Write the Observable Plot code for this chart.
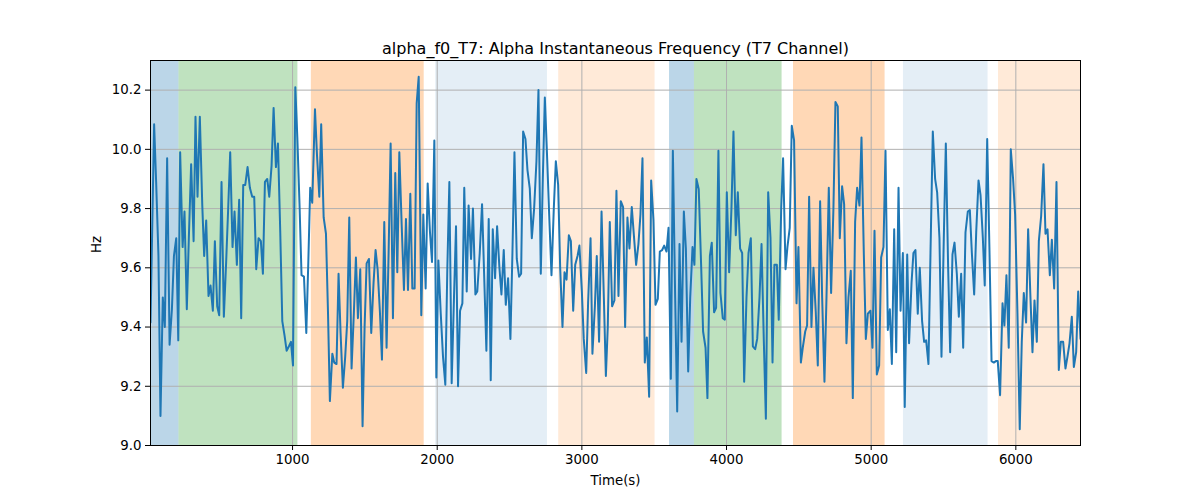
<!DOCTYPE html>
<html><head><meta charset="utf-8">
<script src="https://cdn.jsdelivr.net/npm/d3@7"></script>
<script src="https://cdn.jsdelivr.net/npm/@observablehq/plot@0.6"></script>
<style>body{margin:0;background:#fff;}</style>
</head><body><div id="chart"></div>
<script>
const titleText = "alpha_f0_T7: Alpha Instantaneous Frequency (T7 Channel)";
const xLabel = "Time(s)";
const yLabel = "Hz";
const xTicks = [1000, 2000, 3000, 4000, 5000, 6000];
const yTicks = [9.0, 9.2, 9.4, 9.6, 9.8, 10.0, 10.2];

const times = [
  18, 43, 57, 73, 87, 103, 117, 133, 150, 166, 180, 196, 210, 223, 240, 253, 269, 283, 299, 316, 329, 343, 359, 376, 389, 403, 419, 433, 449, 463, 479, 493, 509, 525, 541, 555, 569, 585, 599, 615, 631, 645, 659, 673, 689, 705, 721, 735, 749, 765, 781, 795, 809,
  825, 839, 855, 869, 885, 899, 915, 929, 945, 959, 975, 989, 1003, 1019, 1033, 1049, 1062, 1079, 1095, 1109, 1122, 1136, 1155, 1169, 1185, 1198, 1215, 1231, 1245, 1258, 1275, 1288, 1304, 1318, 1332, 1348, 1364, 1378, 1392, 1408, 1424, 1438, 1452, 1468, 1484, 1498, 1512, 1528, 1544, 1560, 1574,
  1588, 1604, 1618, 1634, 1650, 1664, 1678, 1694, 1710, 1724, 1738, 1754, 1770, 1784, 1798, 1814, 1828, 1844, 1858, 1872, 1890, 1904, 1920, 1934, 1950, 1964, 1980, 1994, 2008, 2024, 2040, 2056, 2070, 2084, 2100, 2116, 2130, 2144, 2158, 2174, 2187, 2204, 2217, 2234, 2247, 2264, 2277, 2294, 2310, 2323, 2340, 2356, 2370,
  2384, 2400, 2414, 2430, 2444, 2460, 2474, 2490, 2506, 2520, 2534, 2550, 2566, 2580, 2594, 2610, 2624, 2640, 2654, 2670, 2686, 2700, 2716, 2730, 2744, 2760, 2774, 2790, 2806, 2820, 2836, 2850, 2866, 2880, 2894, 2910, 2924, 2940, 2954, 2970, 2983, 3000, 3013, 3030, 3043, 3060, 3073, 3090, 3103, 3119, 3136, 3152, 3166,
  3179, 3193, 3209, 3225, 3239, 3253, 3269, 3285, 3299, 3315, 3329, 3345, 3361, 3375, 3391, 3405, 3419, 3435, 3449, 3465, 3479, 3495, 3509, 3525, 3539, 3555, 3569, 3585, 3599, 3615, 3629, 3645, 3659, 3675, 3689, 3705, 3719, 3735, 3749, 3765, 3778, 3792, 3808, 3825, 3838, 3855, 3868, 3885, 3898, 3914, 3928, 3944, 3958, 3974,
  3988, 4002, 4018, 4034, 4048, 4064, 4078, 4094, 4108, 4122, 4138, 4152, 4168, 4182, 4198, 4212, 4228, 4242, 4258, 4272, 4288, 4304, 4318, 4331, 4348, 4361, 4378, 4391, 4408, 4421, 4437, 4451, 4467, 4484, 4497, 4514, 4527, 4544, 4557, 4571, 4587, 4601, 4617, 4631, 4647, 4661, 4677, 4691, 4707, 4723, 4739, 4753, 4769, 4783,
  4799, 4813, 4829, 4843, 4859, 4873, 4889, 4903, 4919, 4933, 4949, 4963, 4977, 4995, 5009, 5023, 5039, 5055, 5069, 5085, 5099, 5115, 5129, 5143, 5159, 5173, 5189, 5203, 5219, 5232, 5249, 5262, 5279, 5292, 5306, 5322, 5336, 5352, 5366, 5380, 5396, 5410, 5426, 5442, 5456, 5472, 5486, 5502, 5516, 5532, 5546, 5562, 5576,
  5592, 5606, 5622, 5636, 5652, 5668, 5682, 5696, 5712, 5726, 5742, 5756, 5772, 5785, 5802, 5818, 5832, 5848, 5862, 5875, 5891, 5908, 5921, 5935, 5951, 5965, 5981, 5995, 6011, 6027, 6041, 6055, 6071, 6085, 6101, 6115, 6129, 6145, 6159, 6175, 6191, 6205, 6219, 6235, 6249, 6265, 6281, 6297, 6311, 6327, 6343, 6357, 6371, 6387, 6401, 6417, 6431, 6447
];
const values = [
  9.415, 10.085, 9.89, 9.64, 9.10, 9.50, 9.40, 9.97, 9.34, 9.46, 9.64, 9.70, 9.355, 9.99, 9.67, 9.79, 9.46, 9.70, 9.95, 9.69, 10.11, 9.84, 10.11, 9.81, 9.64, 9.76, 9.505, 9.54, 9.455, 9.69, 9.47, 9.44, 9.89, 9.435, 9.62, 9.80, 9.99, 9.67, 9.79, 9.61, 9.83, 9.43, 9.88, 9.88, 9.94, 9.87, 9.84, 9.84, 9.595, 9.70, 9.69, 9.58, 9.89,
  9.90, 9.84, 9.945, 10.14, 9.94, 10.02, 9.72, 9.42, 9.37, 9.32, 9.335, 9.35, 9.27, 10.21, 10.04, 9.80, 9.575, 9.57, 9.38, 9.62, 9.87, 9.82, 10.135, 9.98, 9.84, 10.085, 9.77, 9.715, 9.45, 9.15, 9.31, 9.28, 9.275, 9.58, 9.38, 9.195, 9.30, 9.42, 9.77, 9.26, 9.45, 9.635, 9.43, 9.595, 9.065, 9.40, 9.615, 9.63, 9.38, 9.55, 9.66,
  9.595, 9.45, 9.29, 9.755, 9.33, 9.65, 10.02, 9.43, 9.92, 9.585, 9.99, 9.75, 9.525, 9.765, 9.525, 9.85, 9.53, 9.53, 10.155, 10.245, 9.44, 9.78, 9.53, 9.885, 9.72, 9.62, 10.03, 9.23, 9.625, 9.45, 9.30, 9.205, 9.60, 9.89, 9.21, 9.50, 9.74, 9.20, 9.455, 9.48, 9.87, 9.52, 9.81, 9.63, 9.80, 9.51, 9.52, 9.65, 9.815, 9.60, 9.32, 9.765, 9.22,
  9.73, 9.565, 9.74, 9.60, 9.51, 9.66, 9.475, 9.565, 9.36, 9.65, 9.99, 9.63, 9.57, 9.58, 10.06, 10.035, 9.93, 9.867, 9.70, 9.80, 9.96, 10.20, 9.58, 9.90, 10.175, 9.97, 9.78, 9.575, 9.80, 9.96, 9.88, 9.60, 9.40, 9.585, 9.56, 9.71, 9.69, 9.455, 9.61, 9.64, 9.675, 9.52, 9.36, 9.245, 9.48, 9.70, 9.31, 9.47, 9.64, 9.35, 9.79, 9.50, 9.235,
  9.40, 9.755, 9.47, 9.49, 9.86, 9.505, 9.825, 9.805, 9.40, 9.77, 9.665, 9.805, 9.70, 9.61, 9.68, 9.78, 9.97, 9.28, 9.365, 9.165, 9.895, 9.76, 9.475, 9.495, 9.655, 9.66, 9.675, 9.655, 9.735, 9.225, 9.995, 9.50, 9.115, 9.68, 9.35, 9.79, 9.665, 9.25, 9.50, 9.67, 9.61, 9.90, 9.865, 9.60, 9.385, 9.33, 9.16, 9.64, 9.685, 9.45, 9.465, 9.995, 9.515, 9.43,
  9.425, 9.855, 9.585, 9.80, 10.06, 9.71, 9.855, 9.665, 9.65, 9.215, 9.50, 9.65, 9.70, 9.335, 9.325, 9.36, 9.50, 9.68, 9.35, 9.09, 9.855, 9.70, 9.28, 9.61, 9.61, 9.425, 9.80, 9.97, 9.595, 9.67, 9.735, 10.08, 10.03, 9.48, 9.67, 9.28, 9.33, 9.385, 9.405, 9.84, 9.40, 9.60, 9.45, 9.27, 9.825, 9.50, 9.215, 9.50, 9.87, 9.515, 9.80, 10.16, 10.145, 9.70,
  9.875, 9.815, 9.345, 9.50, 9.59, 9.16, 9.755, 9.87, 9.81, 10.04, 9.65, 9.36, 9.445, 9.455, 9.33, 9.725, 9.24, 9.27, 9.635, 9.67, 9.995, 9.39, 9.46, 9.275, 9.73, 9.315, 9.87, 9.455, 9.65, 9.13, 9.645, 9.345, 9.55, 9.65, 9.66, 9.445, 9.60, 9.42, 9.35, 9.355, 9.275, 9.65, 10.06, 9.90, 9.855, 9.70, 9.30, 9.70, 10.02, 9.60, 9.315, 9.645, 9.685,
  9.58, 9.435, 9.58, 9.33, 9.72, 9.79, 9.795, 9.65, 9.51, 9.72, 9.895, 9.845, 9.70, 9.54, 10.035, 9.65, 9.285, 9.28, 9.285, 9.285, 9.17, 9.48, 9.405, 9.575, 9.33, 10.00, 9.90, 9.78, 9.45, 9.055, 9.35, 9.515, 9.415, 9.73, 9.50, 9.315, 9.49, 9.35, 9.69, 9.775, 9.95, 9.715, 9.73, 9.575, 9.695, 9.53, 9.89, 9.255, 9.35, 9.35, 9.26, 9.30, 9.345, 9.435, 9.265, 9.315, 9.52, 9.36
];

const regionStart = [18, 215, 1130, 1990, 2840, 3606, 3778, 4463, 5223, 5880];
const regionEnd   = [215, 1037, 1910, 2762, 3506, 3778, 4384, 5096, 5808, 6447];
const regionKind  = ["A", "B", "C", "D", "E", "A", "B", "C", "D", "E"];

const kindStyle = {
  A: {fill: "#1f77b4", op: 0.3},
  B: {fill: "#2ca02c", op: 0.3},
  C: {fill: "#ff7f0e", op: 0.3},
  D: {fill: "#1f77b4", op: 0.12},
  E: {fill: "#ff7f0e", op: 0.16}
};

const series = times.map((t, i) => ({t, v: values[i]}));
const regions = regionStart.map((s, i) => ({x1: s, x2: regionEnd[i], kind: regionKind[i]}));

const rectMarks = Object.keys(kindStyle).map(k =>
  Plot.rect(regions.filter(r => r.kind === k), {x1: "x1", x2: "x2", fill: kindStyle[k].fill, fillOpacity: kindStyle[k].op})
);

const chart = Plot.plot({
  width: 1200, height: 500,
  marginLeft: 150, marginRight: 120, marginTop: 60, marginBottom: 55,
  style: {fontFamily: "DejaVu Sans, sans-serif", fontSize: "13.33px", color: "black", background: "white"},
  x: {domain: [18, 6447]},
  y: {domain: [9.0, 10.3]},
  marks: [
    ...rectMarks,
    Plot.gridX(xTicks, {stroke: "#b0b0b0", strokeOpacity: 1, strokeWidth: 1}),
    Plot.gridY(yTicks, {stroke: "#b0b0b0", strokeOpacity: 1, strokeWidth: 1}),
    Plot.line(series, {x: "t", y: "v", stroke: "#1f77b4", strokeWidth: 2, clip: true}),
    Plot.frame({stroke: "black", strokeWidth: 1}),
    Plot.axisX(xTicks, {tickSize: 5, tickPadding: 4, label: null, tickFormat: d => String(d)}),
    Plot.axisY(yTicks, {tickSize: 5, tickPadding: 4, label: null, tickFormat: d => d.toFixed(1)}),
    Plot.text([titleText], {frameAnchor: "top", dy: -18, fontSize: 16, text: d => d, fill: "black"}),
    Plot.text([xLabel], {frameAnchor: "bottom", dy: 39, text: d => d, fill: "black"}),
    Plot.text([yLabel], {frameAnchor: "left", dx: -54, rotate: -90, text: d => d, fill: "black"})
  ]
});
document.getElementById("chart").appendChild(chart);
</script>
</body></html>
